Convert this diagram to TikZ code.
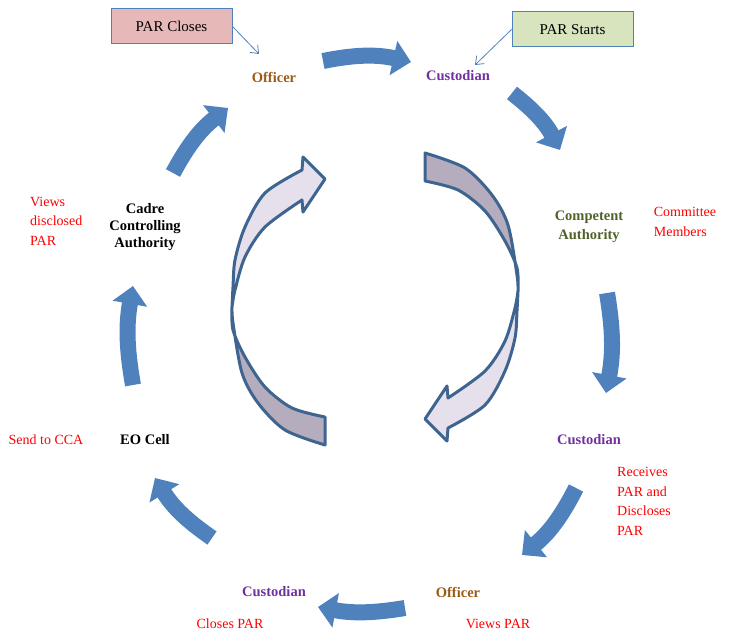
\documentclass[tikz,border=0pt]{standalone}
\usepackage{fontspec}
\setmainfont{Liberation Serif}
\usetikzlibrary{arrows.meta, positioning, calc}
\definecolor{flowblue}{HTML}{4F81BD}
\definecolor{ringline}{HTML}{3D6590}
\definecolor{ringlight}{HTML}{E6E0EC}
\definecolor{ringdark}{HTML}{B5ACBD}
\definecolor{closefill}{HTML}{E6B9B8}
\definecolor{startfill}{HTML}{D7E4BD}
\definecolor{offbrown}{HTML}{9A5B17}
\definecolor{custpurple}{HTML}{7030A0}
\definecolor{caolive}{HTML}{4F6228}
\tikzset{
  role/.style={font=\bfseries\fontsize{14.5}{18.5}\selectfont, align=center, inner sep=1pt},
  note/.style={text=red, font=\fontsize{14}{19.5}\selectfont, align=left, inner sep=1pt},
  tagbox/.style={draw=flowblue, line width=1pt, fill=#1, minimum width=121pt, minimum height=35pt, font=\fontsize{15}{18}\selectfont},
  flow/.style={draw=flowblue, line width=16pt, -{Triangle[length=18pt, width=34pt]}},
  pointer/.style={draw=flowblue, line width=0.8pt, -{Straight Barb[length=7pt, width=11pt]}},
  ring/.style={draw=ringline, line width=3pt, line join=round},
}
\begin{document}
\begin{tikzpicture}[x=1pt, y=1pt]
  \useasboundingbox (0,0) rectangle (730,-636);

  % start / end tags
  \node[tagbox=closefill] (closes) at (171.5,-26.5) {PAR Closes};
  \node[tagbox=startfill] (starts) at (572.5,-29.5) {PAR Starts};

  % stations of the cycle
  \node[role, text=offbrown] (offT) at (274,-77) {Officer};
  \node[role, text=custpurple] (custT) at (458,-76) {Custodian};
  \node[role, text=caolive] (ca) at (589,-227) {Competent\\Authority};
  \node[role, text=custpurple] (custR) at (589,-440) {Custodian};
  \node[role, text=offbrown] (offB) at (458,-592) {Officer};
  \node[role, text=custpurple] (custB) at (274,-592) {Custodian};
  \node[role] (eo) at (145,-440) {EO Cell};
  \node[role, font=\bfseries\fontsize{14.5}{17}\selectfont] (cca) at (145,-227) {Cadre\\Controlling\\Authority};

  % remarks
  \node[note] (members) at (685,-222) {Committee\\Members};
  \node[note, anchor=west] (discl) at (616,-501.5) {Receives\\PAR and\\Discloses\\PAR};
  \node[note] (viewsB) at (498,-624) {Views PAR};
  \node[note] (closesB) at (230,-624) {Closes PAR};
  \node[note] (send) at (46,-440) {Send to CCA};
  \node[note, anchor=west] (viewsL) at (29,-221) {Views\\disclosed\\PAR};

  % thin pointers from the tags
  \coordinate (offIn) at (259,-54);
  \coordinate (custIn) at (475,-65);
  \draw[pointer] (closes.east) -- (offIn);
  \draw[pointer] (starts.west) -- (custIn);

  % outer cycle arrows
  \coordinate (f1a) at (323,-61);  \coordinate (f1b) at (411,-62);
  \coordinate (f2a) at (512,-93);  \coordinate (f2b) at (560,-150);
  \coordinate (f3a) at (607,-293); \coordinate (f3b) at (606,-393);
  \coordinate (f4a) at (576,-488); \coordinate (f4b) at (522,-555);
  \coordinate (f5a) at (405,-608); \coordinate (f5b) at (318,-607);
  \coordinate (f6a) at (212,-538); \coordinate (f6b) at (155,-478);
  \coordinate (f7a) at (133,-385); \coordinate (f7b) at (133,-286);
  \coordinate (f8a) at (173,-173); \coordinate (f8b) at (228,-108);
  \draw[flow] (f1a) to[bend left=12] (f1b);
  \draw[flow] (f2a) to[bend left=12] (f2b);
  \draw[flow] (f3a) to[bend left=10] (f3b);
  \draw[flow] (f4a) to[bend left=12] (f4b);
  \draw[flow] (f5a) to[bend left=10] (f5b);
  \draw[flow] (f6a) to[bend left=12] (f6b);
  \draw[flow] (f7a) to[bend left=10] (f7b);
  \draw[flow] (f8a) to[bend left=12] (f8b);

  % inner twisted ring arrows
  \foreach \turn in {0,180}{
    \begin{scope}[shift={(375,-299)}, rotate=\turn]
      \filldraw[ring, fill=ringdark]
        plot[smooth] coordinates {(-143,-8) (-142,-24) (-133,-74) (-117,-104) (-90,-131) (-50,-146)}
        -- plot[smooth] coordinates {(-50,-118) (-83,-109) (-110,-88) (-130,-58) (-142,-31) (-143,-8)} -- cycle;
      \filldraw[ring, fill=ringlight]
        plot[smooth] coordinates {(-143,-8) (-142,12) (-140,39) (-130,72) (-110,106) (-73,129)}
        -- (-72,142) -- (-50,120) -- (-72,87)
        -- plot[smooth] coordinates {(-73,99) (-110,72) (-130,42) (-140,9) (-143,-8)} -- cycle;
    \end{scope}
  }
\end{tikzpicture}
\end{document}
